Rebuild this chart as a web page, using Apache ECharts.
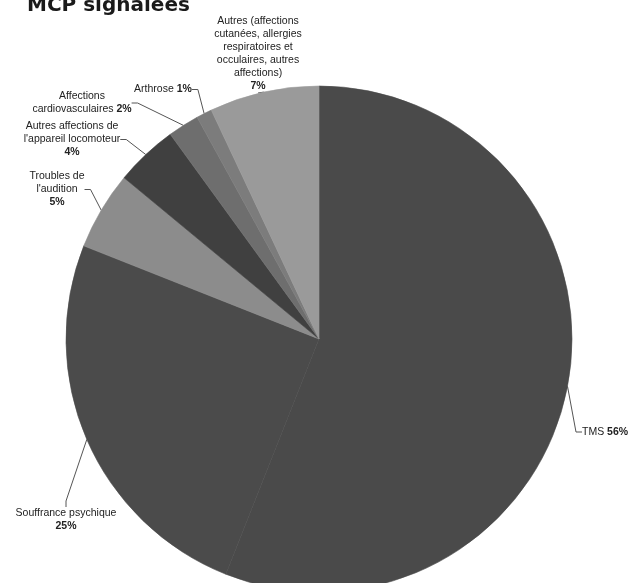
<!DOCTYPE html>
<html>
<head>
<meta charset="utf-8">
<script src="https://cdn.jsdelivr.net/npm/echarts@6/dist/echarts.min.js"></script>
<style>
  html, body { margin: 0; padding: 0; background: #ffffff; }
  #chart { width: 634px; height: 583px; }
</style>
</head>
<body>
<div id="chart"></div>
<script>
// Maladies à caractère professionnel (MCP) signalées, répartition en %
const categories = [
  'TMS',
  'Souffrance psychique',
  'Troubles de\nl\'audition',
  'Autres affections de\nl\'appareil locomoteur',
  'Affections\ncardiovasculaires',
  'Arthrose',
  'Autres (affections\ncutanées, allergies\nrespiratoires et\nocculaires, autres\naffections)'
];
const values = [56, 25, 5, 4, 2, 1, 7];
// whether the percentage sits on its own line under the name
const pctOnNewLine = [false, true, true, true, false, false, true];

const sliceColors = ['#4a4a4a', '#4b4b4b', '#8c8c8c', '#404040', '#6e6e6e', '#7c7c7c', '#9a9a9a'];

// label anchor placement (x, y, align, verticalAlign)
const labelPlacement = [
  [582, 432, 'left', 'middle'],
  [66, 507, 'center', 'top'],
  [57, 170, 'center', 'top'],
  [72, 120, 'center', 'top'],
  [82, 90, 'center', 'top'],
  [163, 83, 'center', 'top'],
  [258, 15, 'center', 'top']
];

const chart = echarts.init(document.getElementById('chart'));

const data = categories.map((name, i) => ({
  name: name,
  value: values[i],
  itemStyle: { color: sliceColors[i], borderColor: sliceColors[i], borderWidth: 0.6 }
}));

chart.setOption({
  animation: false,
  backgroundColor: '#ffffff',
  title: {
    text: 'MCP signalées',
    left: 22,
    top: -9,
    textStyle: {
      fontFamily: 'DejaVu Sans',
      fontWeight: 'bold',
      fontSize: 20,
      color: '#1a1a1a'
    }
  },
  series: [{
    type: 'pie',
    center: [319, 339],
    radius: [0, 253],
    startAngle: 90,
    clockwise: true,
    avoidLabelOverlap: false,
    data: data,
    emphasis: { disabled: true },
    label: {
      show: true,
      position: 'outside',
      fontFamily: 'Liberation Sans',
      fontSize: 10.5,
      lineHeight: 13,
      color: '#222222',
      align: 'center',
      formatter: (p) => {
        const sep = pctOnNewLine[p.dataIndex] ? '\n' : ' ';
        return p.name + sep + '{b|' + p.value + '%}';
      },
      rich: {
        b: {
          fontFamily: 'Liberation Sans',
          fontWeight: 'bold',
          fontSize: 10.5,
          lineHeight: 13,
          color: '#222222'
        }
      }
    },
    labelLine: {
      show: true,
      length: 10,
      length2: 6,
      lineStyle: { color: '#555555', width: 1 }
    },
    labelLayout: (params) => {
      const pl = labelPlacement[params.dataIndex];
      return {
        x: pl[0],
        y: pl[1],
        align: pl[2],
        verticalAlign: pl[3]
      };
    }
  }]
});
</script>
</body>
</html>
